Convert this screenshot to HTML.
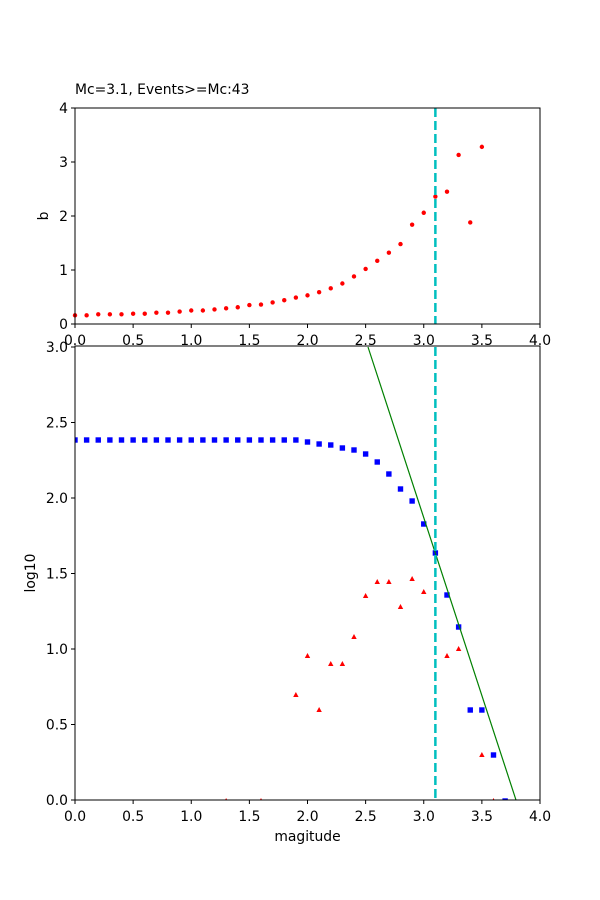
<!DOCTYPE html>
<html><head><meta charset="utf-8"><style>body{margin:0;background:#fff}svg{display:block}text{font-family:"DejaVu Sans","Liberation Sans",sans-serif;font-size:13.9px;fill:#000}</style></head>
<body>
<svg id="s" width="600" height="900" xmlns="http://www.w3.org/2000/svg">
<rect width="600" height="900" fill="#fff"/>
<text x="75" y="94">Mc=3.1, Events&gt;=Mc:43</text>
<g id="g"></g>
</svg>
<script>
const g=document.getElementById('g');let h='';
const X=m=>75+m*116.25, YT=b=>324-b*54, YB=v=>800-v*151;
const b=[0.16,0.16,0.18,0.18,0.18,0.19,0.19,0.21,0.21,0.23,0.25,0.25,0.27,0.29,0.31,0.35,0.36,0.4,0.44,0.49,0.53,0.59,0.66,0.75,0.88,1.02,1.17,1.32,1.48,1.84,2.06,2.36,2.45,3.13,1.88,3.28];
b.forEach((v,i)=>{h+=`<circle cx="${X(i/10)}" cy="${YT(v)}" r="2.2" fill="red"/>`});
h+=`<line x1="${X(3.1)}" y1="108" x2="${X(3.1)}" y2="324" stroke="#00bfbf" stroke-width="2.5" stroke-dasharray="9,4"/>`;
const sq=[[2.0,442],[2.1,444],[2.2,445],[2.3,448],[2.4,450],[2.5,454],[2.6,462],[2.7,474],[2.8,489],[2.9,501],[3.0,524],[3.1,553],[3.2,595],[3.3,627],[3.4,710],[3.5,710],[3.6,755],[3.7,801]];
for(let i=0;i<20;i++)sq.unshift([i/10,440]);
const tr=[[1.3,801],[1.6,801],[1.9,695],[2.0,656],[2.1,710],[2.2,664],[2.3,664],[2.4,637],[2.5,596],[2.6,582],[2.7,582],[2.8,607],[2.9,579],[3.0,592],[3.2,656],[3.3,649],[3.5,755],[3.6,801]];
let bot='';
tr.forEach(([m,y])=>{const x=X(m);bot+=`<polygon points="${x},${y-3} ${x-2.7},${y+2} ${x+2.7},${y+2}" fill="red"/>`});
sq.forEach(([m,y])=>{const x=X(m);bot+=`<rect x="${x-2.7}" y="${y-2.7}" width="5.4" height="5.4" fill="blue"/>`});
bot+=`<line x1="368" y1="347" x2="516" y2="800" stroke="green" stroke-width="1.2"/>`;
bot+=`<line x1="${X(3.1)}" y1="347" x2="${X(3.1)}" y2="800" stroke="#00bfbf" stroke-width="2.5" stroke-dasharray="9,4"/>`;
h+=`<defs><clipPath id="c"><rect x="75" y="346" width="465" height="454"/></clipPath></defs><g clip-path="url(#c)">${bot}</g>`;
h+=`<rect x="75" y="108" width="465" height="216" fill="none" stroke="#000" stroke-width="1"/>`;
h+=`<rect x="75" y="346" width="465" height="454" fill="none" stroke="#000" stroke-width="1"/>`;
for(let i=0;i<=8;i++){const x=X(i/2),l=(i/2).toFixed(1);
h+=`<line x1="${x}" y1="324" x2="${x}" y2="328" stroke="#000"/><text x="${x}" y="345" text-anchor="middle">${l}</text>`;
h+=`<line x1="${x}" y1="800" x2="${x}" y2="804" stroke="#000"/><text x="${x}" y="821" text-anchor="middle">${l}</text>`;}
for(let i=0;i<=4;i++){const y=YT(i);h+=`<line x1="71" y1="${y}" x2="75" y2="${y}" stroke="#000"/><text x="68" y="${y+5}" text-anchor="end">${i}</text>`;}
for(let i=0;i<=6;i++){const v=i/2,y=YB(v);h+=`<line x1="71" y1="${y}" x2="75" y2="${y}" stroke="#000"/><text x="68" y="${y+5}" text-anchor="end">${v.toFixed(1)}</text>`;}
h+=`<text x="48" y="216" text-anchor="middle" transform="rotate(-90 48 216)">b</text>`;
h+=`<text x="35" y="573" text-anchor="middle" transform="rotate(-90 35 573)">log10</text>`;
h+=`<text x="307.5" y="841" text-anchor="middle">magitude</text>`;
g.innerHTML=h;
</script>
</body></html>
